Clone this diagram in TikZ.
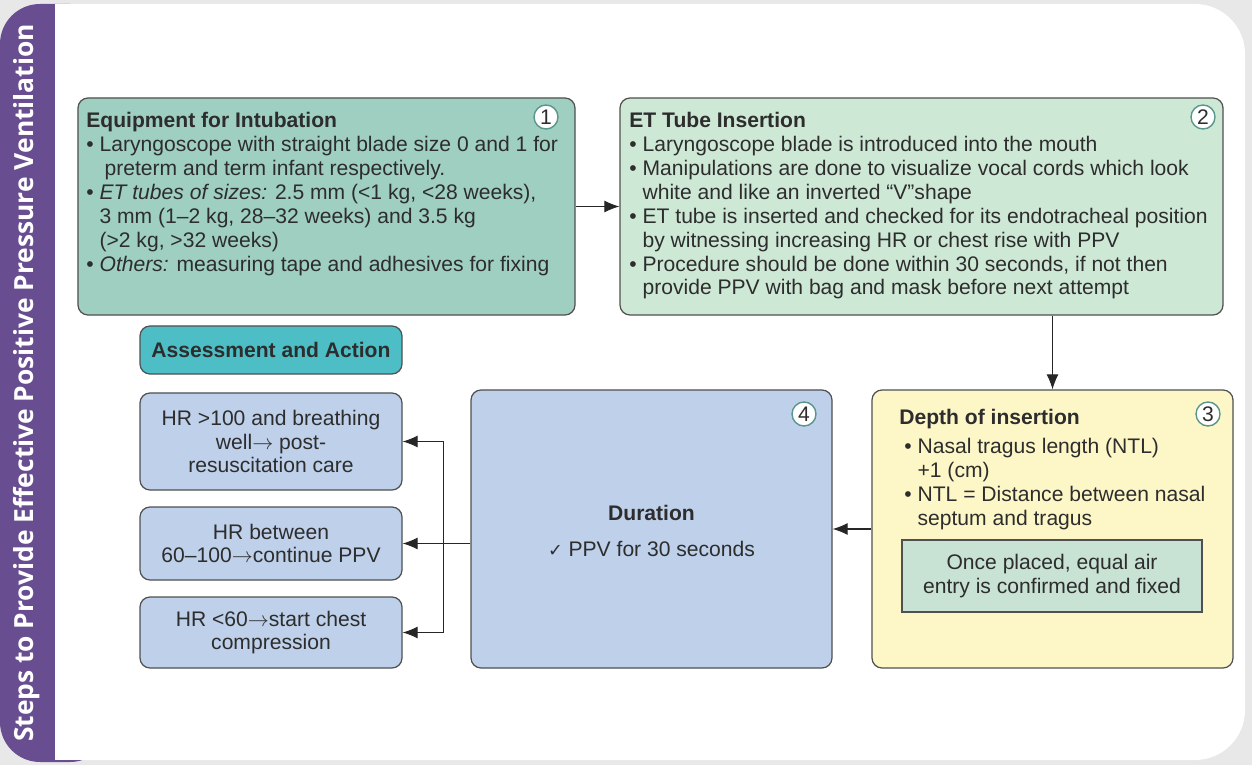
\documentclass[tikz,border=0pt]{standalone}
\usepackage{fontspec}
\setmainfont{Liberation Sans}
\newfontfamily\bandfont{Open Sans}
\newfontfamily\symfont{DejaVu Sans}
\usetikzlibrary{arrows.meta,calc}

\definecolor{bandpurple}{RGB}{104,78,145}
\definecolor{equipfill}{RGB}{159,207,192}
\definecolor{insertfill}{RGB}{206,232,214}
\definecolor{depthfill}{RGB}{253,247,200}
\definecolor{bluefill}{RGB}{190,208,234}
\definecolor{headfill}{RGB}{77,190,198}
\definecolor{innerfill}{RGB}{200,226,212}
\definecolor{numring}{RGB}{90,150,140}
\definecolor{txtgray}{RGB}{45,45,45}
\definecolor{edgegray}{RGB}{80,80,80}

\newcommand{\bul}{\textbullet\ }
\newcommand{\ind}{\hphantom{\textbullet\ }}

\tikzset{
  box/.style={draw=edgegray, line width=0.7pt, rounded corners=2mm, inner sep=0pt},
  txt/.style={text=txtgray, font=\fontsize{12}{13.6}\selectfont, inner sep=0pt, align=left, anchor=north west},
  ctxt/.style={text=txtgray, font=\fontsize{12}{13.6}\selectfont, inner sep=0pt, align=center},
  num/.style={circle, draw=numring, fill=white, line width=0.8pt, minimum size=4.8mm, inner sep=0pt, text=txtgray, font=\fontsize{12}{13}\selectfont},
  arr/.style={-{Latex[length=3mm,width=2.4mm]}, draw=black!85, line width=0.6pt},
}

\begin{document}
\begin{tikzpicture}[x=0.2mm, y=-0.2mm]
% card and side band
\fill[black!9] (0,0) rectangle (1252,765);
\fill[white, rounded corners=10mm] (0,4) rectangle (1245,760);
\fill[bandpurple, rounded corners=8mm] (0,4) rectangle (110,762);
\fill[white] (55,4) rectangle (150,760);
\node[rotate=90, text=white, font=\bandfont\bfseries\fontsize{15}{17}\selectfont] (title) at (27,383) {Steps to Provide Effective Positive Pressure Ventilation};

% step boxes
\node[box, fill=equipfill, minimum width=99.4mm, minimum height=43.4mm] (equip) at (326.5,206.5) {};
\node[box, fill=insertfill, minimum width=120.6mm, minimum height=43.4mm] (insert) at (921.5,206.5) {};
\node[box, fill=depthfill, minimum width=72.2mm, minimum height=55.6mm] (depth) at (1052.5,529) {};
\node[box, fill=bluefill, minimum width=72.2mm, minimum height=55.6mm] (dur) at (651.5,529) {};
\node[draw=edgegray, line width=0.7pt, fill=innerfill, minimum width=60mm, minimum height=14.4mm, ctxt] (placed) at (1052,576) {Once placed, equal air\\entry is confirmed and fixed};

\node[txt] (equiptxt) at (86,112) {\textbf{Equipment for Intubation}\\
  \bul Laryngoscope with straight blade size 0 and 1 for\\
  \ind\hspace*{1mm}preterm and term infant respectively.\\
  \bul \textit{ET tubes of sizes:} 2.5 mm (<1 kg, <28 weeks),\\
  \ind 3 mm (1–2 kg, 28–32 weeks) and 3.5 kg\\
  \ind (>2 kg, >32 weeks)\\
  \bul \textit{Others:} measuring tape and adhesives for fixing};
\node[txt] (inserttxt) at (629,112) {\textbf{ET Tube Insertion}\\
  \bul Laryngoscope blade is introduced into the mouth\\
  \bul Manipulations are done to visualize vocal cords which look\\
  \ind white and like an inverted “V”shape\\
  \bul ET tube is inserted and checked for its endotracheal position\\
  \ind by witnessing increasing HR or chest rise with PPV\\
  \bul Procedure should be done within 30 seconds, if not then\\
  \ind provide PPV with bag and mask before next attempt};
\node[txt] (depthtxt) at (899,409) {\textbf{Depth of insertion}\\[1mm]
  \hspace*{1mm}\bul Nasal tragus length (NTL)\\
  \hspace*{1mm}\ind +1 (cm)\\
  \hspace*{1mm}\bul NTL = Distance between nasal\\
  \hspace*{1mm}\ind septum and tragus};
\node[ctxt] (durtxt) at (651.5,531) {\textbf{Duration}\\[2.5mm]{\symfont\fontsize{10}{12}\selectfont ✓} PPV for 30 seconds};

% numbers
\node[num] (n1) at (546,117) {1};
\node[num] (n2) at (1203,117) {2};
\node[num] (n3) at (1208,414) {3};
\node[num] (n4) at (804,414) {4};

% assessment column
\node[box, fill=headfill, minimum width=52.4mm, minimum height=9.6mm, ctxt, font=\bfseries\fontsize{12}{13.6}\selectfont] (head) at (271,350) {Assessment and Action};
\node[box, fill=bluefill, minimum width=52.4mm, minimum height=19.4mm, ctxt] (hrhigh) at (271,441.5) {HR >100 and breathing\\well$\rightarrow$ post-\\resuscitation care};
\node[box, fill=bluefill, minimum width=52.4mm, minimum height=14.6mm, ctxt] (hrmid) at (271,543.5) {HR between\\60–100$\rightarrow$continue PPV};
\node[box, fill=bluefill, minimum width=52.4mm, minimum height=14.2mm, ctxt] (hrlow) at (271,632.5) {HR <60$\rightarrow$start chest\\compression};

% connectors
\draw[arr] (equip) -- (insert);
\draw[arr] (insert.south -| depth.north) -- (depth.north);
\draw[arr] (depth) -- (dur);
\coordinate (split) at ($(hrmid.east)+(41,0)$);
\draw[arr] (dur.west |- hrmid.east) -- (hrmid.east);
\draw[draw=black!85, line width=0.6pt] (split |- hrhigh.east) -- (split |- hrlow.east);
\draw[arr] (split |- hrhigh.east) -- (hrhigh.east);
\draw[arr] (split |- hrlow.east) -- (hrlow.east);
\end{tikzpicture}
\end{document}
